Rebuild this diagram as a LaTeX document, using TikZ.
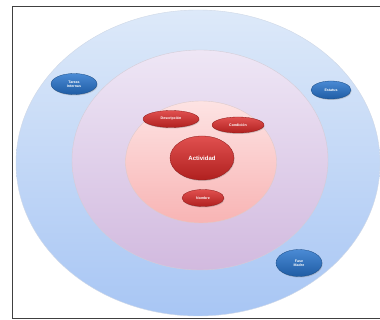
\documentclass[tikz,border=0pt]{standalone}
\usepackage{fontspec}
\setmainfont{Liberation Sans}
\usetikzlibrary{shapes.geometric,shadows}
\definecolor{ringOutTop}{HTML}{DDE9F9}
\definecolor{ringOutBot}{HTML}{A8C6F4}
\definecolor{ringMidTop}{HTML}{EEE6F5}
\definecolor{ringMidBot}{HTML}{D2BADF}
\definecolor{ringInTop}{HTML}{FDE3E3}
\definecolor{ringInBot}{HTML}{F8B4B4}
\definecolor{redTop}{HTML}{E0504F}
\definecolor{redBot}{HTML}{B0201F}
\definecolor{blueTop}{HTML}{4A8AD4}
\definecolor{blueBot}{HTML}{1F5CA4}
\tikzset{
  ring/.style={ellipse, draw=#1, line width=0.4pt, inner sep=0pt},
  bubble/.style={ellipse, inner sep=0pt, text=white, font=\bfseries\fontsize{3.6}{4}\selectfont,
    align=center, drop shadow={shadow xshift=0.6pt, shadow yshift=-1pt, opacity=0.35}},
  redbubble/.style={bubble, top color=redTop, bottom color=redBot, draw=redBot!80!black, line width=0.3pt},
  bluebubble/.style={bubble, top color=blueTop, bottom color=blueBot, draw=blueBot!80!black, line width=0.3pt},
}
\begin{document}
\begin{tikzpicture}[x=1pt,y=-1pt]
  \useasboundingbox (0,0) rectangle (380,320);
  \fill[white] (0,0) rectangle (380,320);
  \draw[line width=0.9pt, black!75] (12,6) rectangle (380,318);
  % concentric rings
  \node[ring=ringOutBot!80!black!40, top color=ringOutTop, bottom color=ringOutBot,
        minimum width=364pt, minimum height=306pt] (outer) at (198,163) {};
  \node[ring=ringMidBot!70!black!40, top color=ringMidTop, bottom color=ringMidBot,
        minimum width=256pt, minimum height=220pt] (middle) at (200,160) {};
  \node[ring=ringInBot!70!black!40, top color=ringInTop, bottom color=ringInBot,
        minimum width=151pt, minimum height=122pt] (inner) at (201,162) {};
  % red elements in the core
  \node[redbubble, minimum width=64pt, minimum height=44pt,
        font=\bfseries\fontsize{6}{7}\selectfont] (act) at (202,158) {Actividad};
  \node[redbubble, minimum width=56pt, minimum height=17pt] (desc) at (171,119) {Descripción};
  \node[redbubble, minimum width=52pt, minimum height=16pt] (cond) at (238,125) {Condición};
  \node[redbubble, minimum width=42pt, minimum height=17pt] (nom) at (203,198) {Nombre};
  % blue elements on the outer ring
  \node[bluebubble, minimum width=46pt, minimum height=21pt] (tar) at (74,84) {Tareas\\Internas};
  \node[bluebubble, minimum width=40pt, minimum height=18pt] (est) at (331,90) {Estatus};
  \node[bluebubble, minimum width=46pt, minimum height=27pt] (fase) at (299,263) {Fase\\Madre};
\end{tikzpicture}
\end{document}
